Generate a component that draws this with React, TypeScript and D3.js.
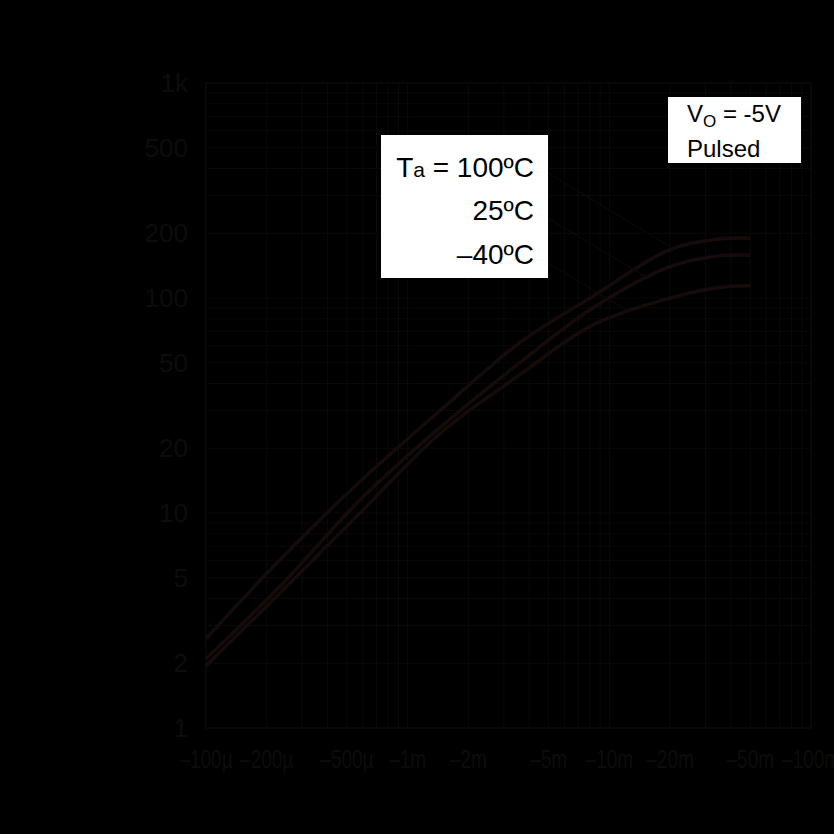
import React, { useEffect, useRef } from 'react';
import * as d3 from 'd3';

// Collector current (magnitude, A) and DC current gain per temperature
const currentA = [1e-4, 2.3e-4, 5.8e-4, 1.45e-3, 3.6e-3, 8.3e-3, 2e-2, 3.5e-2, 5e-2];
const hfe100 = [2.6, 6.0, 14, 30, 62, 102, 168, 188, 190];
const hfe25 = [2.1, 4.5, 11.5, 25, 50, 90, 140, 157, 158];
const hfeMinus40 = [1.95, 4.2, 10, 23.5, 44, 75, 100, 112, 114];

const xTicks = [1e-4, 2e-4, 5e-4, 1e-3, 2e-3, 5e-3, 1e-2, 2e-2, 5e-2, 1e-1];
const xTickLabels = ['–100µ', '–200µ', '–500µ', '–1m', '–2m', '–5m', '–10m', '–20m', '–50m', '–100m'];
const yTicks = [1, 2, 5, 10, 20, 50, 100, 200, 500, 1000];
const yTickLabels = ['1', '2', '5', '10', '20', '50', '100', '200', '500', '1k'];

// where the legend leader lines touch each curve (current, hFE)
const leaderTargets = [
    [0.0207, 170],
    [0.0153, 125],
    [0.0122, 88],
];

const TEXT = '#0e0c0b';
const GRID = '#0b0909';
const CURVE = '#150c09';

const App = () => {
    const svgRef = useRef(null);

    useEffect(() => {
        if (!svgRef.current) return;

        const margin = { top: 83, left: 206 };
        const width = 605;
        const height = 645;

        const svg = d3.select(svgRef.current);
        svg.selectAll('*').remove();

        const g = svg.append('g').attr('transform', `translate(${margin.left},${margin.top})`);

        const xScale = d3.scaleLog().domain([1e-4, 1e-1]).range([0, width]);
        const yScale = d3.scaleLog().domain([1, 1000]).range([height, 0]);

        // Grid: 1..9 in every decade
        const xGrid = [];
        [1e-4, 1e-3, 1e-2].forEach(dec => d3.range(1, 10).forEach(k => xGrid.push(dec * k)));
        xGrid.push(1e-1);
        const yGrid = [];
        [1, 10, 100].forEach(dec => d3.range(1, 10).forEach(k => yGrid.push(dec * k)));
        yGrid.push(1000);

        g.append('g')
            .selectAll('line')
            .data(xGrid)
            .join('line')
            .attr('x1', d => xScale(d))
            .attr('x2', d => xScale(d))
            .attr('y1', 0)
            .attr('y2', height)
            .attr('stroke', GRID)
            .attr('stroke-width', 1);

        g.append('g')
            .selectAll('line')
            .data(yGrid)
            .join('line')
            .attr('x1', 0)
            .attr('x2', width)
            .attr('y1', d => yScale(d))
            .attr('y2', d => yScale(d))
            .attr('stroke', GRID)
            .attr('stroke-width', 1);

        // Frame
        g.append('rect')
            .attr('width', width)
            .attr('height', height)
            .attr('fill', 'none')
            .attr('stroke', GRID)
            .attr('stroke-width', 1.5);

        // Y tick labels
        g.append('g')
            .selectAll('text')
            .data(yTicks)
            .join('text')
            .attr('x', -18)
            .attr('y', d => yScale(d) + 9)
            .attr('text-anchor', 'end')
            .attr('font-family', '"Liberation Sans", Arial, sans-serif')
            .attr('font-size', '26px')
            .attr('fill', TEXT)
            .text((d, i) => yTickLabels[i]);

        // X tick labels (condensed face)
        g.append('g')
            .selectAll('text')
            .data(xTicks)
            .join('text')
            .attr('transform', d => `translate(${xScale(d)},${height + 40}) scale(0.76,1)`)
            .attr('text-anchor', 'middle')
            .attr('font-family', '"Liberation Sans", Arial, sans-serif')
            .attr('font-size', '25px')
            .attr('fill', TEXT)
            .text((d, i) => xTickLabels[i]);

        // Curves
        const line = d3.line<number>()
            .x((d, i) => xScale(currentA[i]))
            .y(d => yScale(d))
            .curve(d3.curveCatmullRom.alpha(0.5));

        [hfe100, hfe25, hfeMinus40].forEach(series => {
            g.append('path')
                .datum(series)
                .attr('fill', 'none')
                .attr('stroke', CURVE)
                .attr('stroke-width', 3.5)
                .attr('d', line);
        });

        // Temperature legend box
        const tBox = { x: 381 - margin.left, y: 135 - margin.top, w: 167, h: 143 };
        const leaderStarts = [173, 218, 263];
        leaderTargets.forEach(([cx, cy], i) => {
            g.append('line')
                .attr('x1', tBox.x + tBox.w)
                .attr('y1', leaderStarts[i] - margin.top)
                .attr('x2', xScale(cx))
                .attr('y2', yScale(cy))
                .attr('stroke', GRID)
                .attr('stroke-width', 1.2);
        });

        g.append('rect')
            .attr('x', tBox.x)
            .attr('y', tBox.y)
            .attr('width', tBox.w)
            .attr('height', tBox.h)
            .attr('fill', '#ffffff');

        const tText = g.append('g')
            .attr('font-family', '"Liberation Sans", Arial, sans-serif')
            .attr('font-size', '28px')
            .attr('fill', '#000')
            .attr('text-anchor', 'end');

        const t1 = tText.append('text').attr('x', tBox.x + 153).attr('y', 177 - margin.top);
        t1.append('tspan').text('T');
        t1.append('tspan').attr('font-size', '21px').text('a');
        t1.append('tspan').text(' = 100ºC');

        tText.append('text').attr('x', tBox.x + 153).attr('y', 220 - margin.top).text('25ºC');
        tText.append('text').attr('x', tBox.x + 153).attr('y', 264 - margin.top).text('–40ºC');

        // Condition box
        const cBox = { x: 668 - margin.left, y: 97 - margin.top, w: 133, h: 66 };
        g.append('rect')
            .attr('x', cBox.x)
            .attr('y', cBox.y)
            .attr('width', cBox.w)
            .attr('height', cBox.h)
            .attr('fill', '#ffffff');

        const cText = g.append('g')
            .attr('font-family', '"Liberation Sans", Arial, sans-serif')
            .attr('font-size', '24px')
            .attr('fill', '#000');

        const v = cText.append('text').attr('x', cBox.x + 19).attr('y', 122 - margin.top);
        v.append('tspan').text('V');
        v.append('tspan').attr('font-size', '17px').attr('dy', 5).text('O');
        v.append('tspan').attr('dy', -5).text(' = -5V');

        cText.append('text').attr('x', cBox.x + 19).attr('y', 157 - margin.top).text('Pulsed');
    }, []);

    return (
        <div style={{ position: 'fixed', left: 0, top: 0, width: '100vw', height: '100vh', background: '#000' }}>
            <svg ref={svgRef} width={834} height={834} style={{ display: 'block' }} aria-label="hFE versus collector current"></svg>
        </div>
    );
};

export default App;
